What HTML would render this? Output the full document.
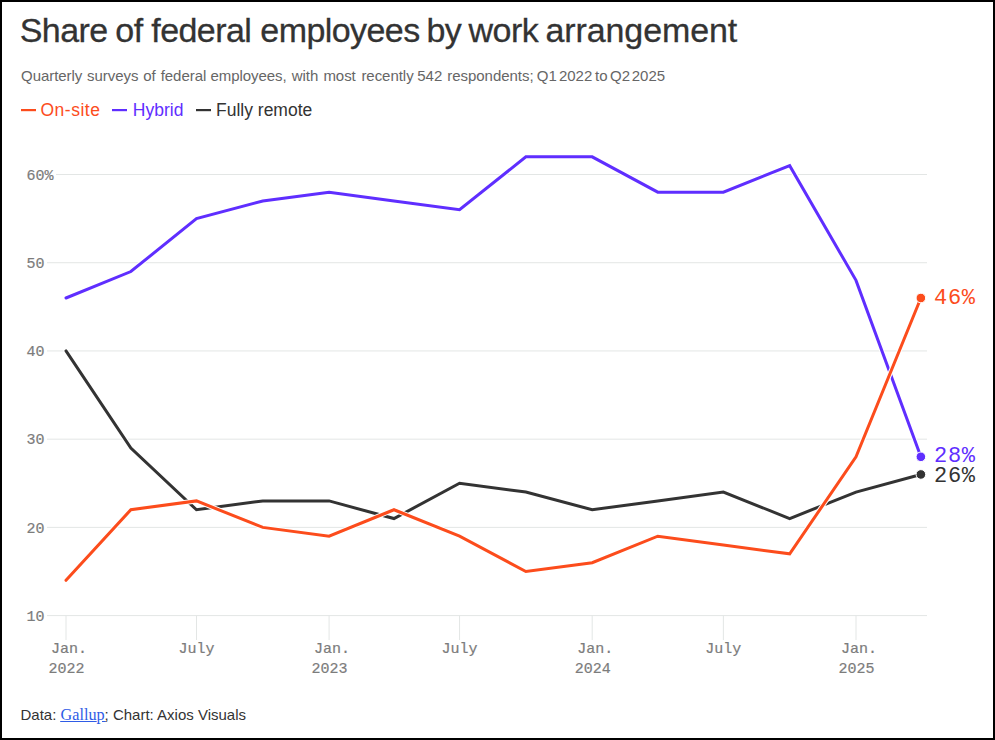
<!DOCTYPE html>
<html><head><meta charset="utf-8">
<style>
html,body{margin:0;padding:0;background:#fff;}
body{width:995px;height:740px;overflow:hidden;position:relative;}
.frame{position:absolute;left:0;top:0;width:995px;height:740px;box-sizing:border-box;border:2px solid #000;}
svg{position:absolute;left:0;top:0;}
text{font-family:"Liberation Sans",sans-serif;}
.mono{font-family:"Liberation Mono",monospace;font-size:15px;fill:#7c7c7c;stroke:#7c7c7c;stroke-width:0.2px;}
.endl{font-family:"Liberation Mono",monospace;font-size:22px;letter-spacing:0.7px;}
.title{font-size:34px;fill:#333;stroke:#333;stroke-width:0.3px;letter-spacing:-0.57px;}
.sub{font-size:15px;fill:#666;letter-spacing:-0.04px;}
.leg{font-size:17.5px;}
.foot{font-size:15px;fill:#333;}
</style></head><body>
<svg width="995" height="740" viewBox="0 0 995 740">
<text y="42.3" class="title"><tspan x="19.75">Share</tspan><tspan x="115.3">of</tspan><tspan x="151.3">federal</tspan><tspan x="260.3">employees</tspan><tspan x="426.4">by</tspan><tspan x="468.6">work</tspan><tspan x="545.5" letter-spacing="-0.1">arrangement</tspan></text>
<text y="80.5" class="sub"><tspan x="21.0">Quarterly</tspan><tspan x="87.0">surveys</tspan><tspan x="143.3">of</tspan><tspan x="160.7">federal</tspan><tspan x="210.4">employees,</tspan><tspan x="291.7">with</tspan><tspan x="323.4">most</tspan><tspan x="361.4">recently</tspan><tspan x="417.3">542</tspan><tspan x="447.3">respondents;</tspan><tspan x="536.8">Q1</tspan><tspan x="559.0">2022</tspan><tspan x="595.1">to</tspan><tspan x="610.0">Q2</tspan><tspan x="631.8">2025</tspan></text>
<rect x="21" y="109" width="15" height="2.2" fill="#FC4C1C"/>
<text x="40.5" y="116" class="leg" fill="#FC4C1C" letter-spacing="0.5">On-site</text>
<rect x="112" y="109" width="15" height="2.2" fill="#5F2EFF"/>
<text x="132.8" y="116" class="leg" fill="#5F2EFF">Hybrid</text>
<rect x="196" y="109" width="15" height="2.2" fill="#333333"/>
<text x="216" y="116" class="leg" fill="#333333">Fully remote</text>
<line x1="56" y1="174.50" x2="927" y2="174.50" stroke="#E3E6E5" stroke-width="1"/>
<text x="26.6" y="179.80" class="mono">60%</text>
<line x1="47" y1="262.72" x2="927" y2="262.72" stroke="#E3E6E5" stroke-width="1"/>
<text x="26.6" y="268.02" class="mono">50</text>
<line x1="47" y1="350.94" x2="927" y2="350.94" stroke="#E3E6E5" stroke-width="1"/>
<text x="26.6" y="356.24" class="mono">40</text>
<line x1="47" y1="439.16" x2="927" y2="439.16" stroke="#E3E6E5" stroke-width="1"/>
<text x="26.6" y="444.46" class="mono">30</text>
<line x1="47" y1="527.38" x2="927" y2="527.38" stroke="#E3E6E5" stroke-width="1"/>
<text x="26.6" y="532.68" class="mono">20</text>
<line x1="47" y1="615.60" x2="927" y2="615.60" stroke="#E3E6E5" stroke-width="1"/>
<text x="26.6" y="620.90" class="mono">10</text>
<line x1="66.00" y1="615.5" x2="66.00" y2="640" stroke="#E3E6E5" stroke-width="1"/>
<line x1="196.47" y1="615.5" x2="196.47" y2="640" stroke="#E3E6E5" stroke-width="1"/>
<line x1="329.09" y1="615.5" x2="329.09" y2="640" stroke="#E3E6E5" stroke-width="1"/>
<line x1="459.56" y1="615.5" x2="459.56" y2="640" stroke="#E3E6E5" stroke-width="1"/>
<line x1="592.19" y1="615.5" x2="592.19" y2="640" stroke="#E3E6E5" stroke-width="1"/>
<line x1="723.37" y1="615.5" x2="723.37" y2="640" stroke="#E3E6E5" stroke-width="1"/>
<line x1="856.00" y1="615.5" x2="856.00" y2="640" stroke="#E3E6E5" stroke-width="1"/>
<text x="69.00" y="653.3" class="mono" text-anchor="middle">Jan.</text>
<text x="66.50" y="673" class="mono" text-anchor="middle">2022</text>
<text x="196.47" y="653.3" class="mono" text-anchor="middle">July</text>
<text x="332.09" y="653.3" class="mono" text-anchor="middle">Jan.</text>
<text x="329.59" y="673" class="mono" text-anchor="middle">2023</text>
<text x="459.56" y="653.3" class="mono" text-anchor="middle">July</text>
<text x="595.19" y="653.3" class="mono" text-anchor="middle">Jan.</text>
<text x="592.69" y="673" class="mono" text-anchor="middle">2024</text>
<text x="723.37" y="653.3" class="mono" text-anchor="middle">July</text>
<text x="859.00" y="653.3" class="mono" text-anchor="middle">Jan.</text>
<text x="856.50" y="673" class="mono" text-anchor="middle">2025</text>
<path d="M66.00,350.94 L130.87,447.98 L196.47,509.74 L262.78,500.91 L329.09,500.91 L393.97,518.56 L459.56,483.27 L525.87,492.09 L592.19,509.74 L657.78,500.91 L723.37,492.09 L789.69,518.56 L856.00,492.09 L920.87,474.45" fill="none" stroke="#fff" stroke-width="5" stroke-linecap="round"/>
<path d="M66.00,350.94 L130.87,447.98 L196.47,509.74 L262.78,500.91 L329.09,500.91 L393.97,518.56 L459.56,483.27 L525.87,492.09 L592.19,509.74 L657.78,500.91 L723.37,492.09 L789.69,518.56 L856.00,492.09 L920.87,474.45" fill="none" stroke="#333333" stroke-width="3" stroke-linecap="round"/>
<path d="M66.00,298.01 L130.87,271.54 L196.47,218.61 L262.78,200.97 L329.09,192.14 L393.97,200.97 L459.56,209.79 L525.87,156.86 L592.19,156.86 L657.78,192.14 L723.37,192.14 L789.69,165.68 L856.00,280.36 L920.87,456.80" fill="none" stroke="#fff" stroke-width="5" stroke-linecap="round"/>
<path d="M66.00,298.01 L130.87,271.54 L196.47,218.61 L262.78,200.97 L329.09,192.14 L393.97,200.97 L459.56,209.79 L525.87,156.86 L592.19,156.86 L657.78,192.14 L723.37,192.14 L789.69,165.68 L856.00,280.36 L920.87,456.80" fill="none" stroke="#5F2EFF" stroke-width="3" stroke-linecap="round"/>
<path d="M66.00,580.31 L130.87,509.74 L196.47,500.91 L262.78,527.38 L329.09,536.20 L393.97,509.74 L459.56,536.20 L525.87,571.49 L592.19,562.67 L657.78,536.20 L723.37,545.02 L789.69,553.85 L856.00,456.80 L920.87,298.01" fill="none" stroke="#fff" stroke-width="5" stroke-linecap="round"/>
<path d="M66.00,580.31 L130.87,509.74 L196.47,500.91 L262.78,527.38 L329.09,536.20 L393.97,509.74 L459.56,536.20 L525.87,571.49 L592.19,562.67 L657.78,536.20 L723.37,545.02 L789.69,553.85 L856.00,456.80 L920.87,298.01" fill="none" stroke="#FC4C1C" stroke-width="3" stroke-linecap="round"/>
<circle cx="920.87" cy="298.01" r="4.8" fill="#FC4C1C" stroke="#fff" stroke-width="1"/>
<text x="934" y="304" class="endl" fill="#FC4C1C">46%</text>
<circle cx="920.87" cy="456.80" r="4.8" fill="#5F2EFF" stroke="#fff" stroke-width="1"/>
<text x="934" y="461.9" class="endl" fill="#5F2EFF">28%</text>
<circle cx="920.87" cy="474.45" r="4.8" fill="#333333" stroke="#fff" stroke-width="1"/>
<text x="934" y="481.8" class="endl" fill="#333333">26%</text>
<rect x="60.2" y="721" width="36.5" height="1" fill="#2f5ce6"/><rect x="102" y="721" width="3.8" height="1" fill="#2f5ce6"/>
<text x="20.5" y="720" class="foot">Data: <tspan font-family="Liberation Serif" font-size="16.2" fill="#2f5ce6">Gallup</tspan>; Chart: Axios Visuals</text>
</svg>
<div class="frame"></div>
</body></html>
